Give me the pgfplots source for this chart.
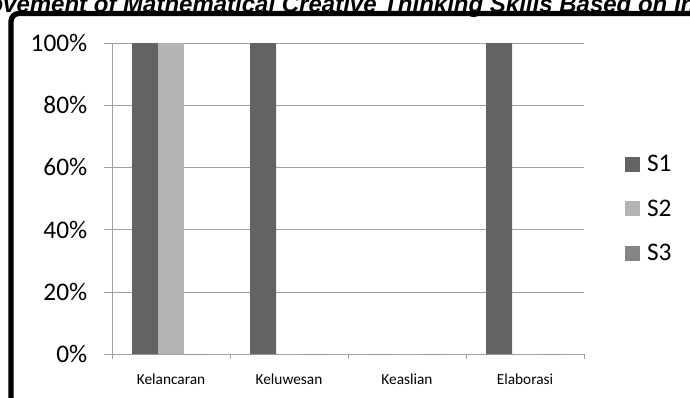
\documentclass[border=0pt]{standalone}
\usepackage{pgfplots}
\pgfplotsset{compat=1.18}
\usepackage{fontspec}
\setmainfont{Carlito}
\newfontfamily\titlefont{Liberation Sans}
\definecolor{cS1}{HTML}{636363}
\definecolor{cS2}{HTML}{B3B3B3}
\definecolor{cS3}{HTML}{858585}
\definecolor{gridc}{HTML}{A0A0A0}
\begin{document}
\begin{tikzpicture}
\useasboundingbox (0pt,0pt) rectangle (517.5pt,-297.75pt);
\clip (0pt,0pt) rectangle (517.5pt,-297.75pt);
\fill[white] (0pt,0pt) rectangle (517.5pt,-297.75pt);
\node[anchor=base west, inner sep=0pt] at (-47.8pt,-9.5pt)
  {\titlefont\bfseries\itshape\fontsize{18}{20}\selectfont Improvement of Mathematical Creative Thinking Skills Based on Indicators};
\draw[line width=4pt, rounded corners=6pt] (8.25pt,-10.1pt) rectangle (560pt,-330pt);
\begin{axis}[
  at={(84pt,-265.5pt)}, anchor=south west,
  scale only axis, width=354pt, height=233.25pt,
  xmin=-0.5, xmax=3.5, ymin=0, ymax=100,
  enlarge x limits=false, enlarge y limits=false,
  ybar, bar width=0.2203,
  axis x line*=bottom, axis y line*=left,
  axis line style={gridc, -},
  xtick={0,1,2,3},
  xticklabels={Kelancaran,Keluwesan,Keaslian,Elaborasi},
  minor xtick={-0.5,0.5,1.5,2.5,3.5},
  x tick style={draw=none},
  minor x tick style={draw=gridc, thin},
  minor tick length=4pt,
  ytick={0,20,40,60,80,100},
  yticklabels={0\%,20\%,40\%,60\%,80\%,100\%},
  y tick style={gridc, thin},
  major tick length=6pt,
  tick align=outside,
  ymajorgrids, major grid style={gridc, thin},
  xticklabel style={font=\fontsize{11.5}{13}\selectfont, yshift=-5pt},
  yticklabel style={font=\fontsize{19}{22}\selectfont, xshift=-9pt},
  legend style={at={(1.0869,0.471)}, anchor=west, draw=none, fill=none,
    inner sep=0pt, outer sep=0pt, row sep=20.15pt, column sep=5.25pt,
    font=\fontsize{19}{22}\selectfont,
    nodes={inner sep=0pt, text height=13pt, text depth=0pt}},
  legend cell align=left,
  legend image code/.code={\fill[#1] (0pt,-6.75pt) rectangle (11.25pt,4.5pt);},
]
\addplot[fill=cS1, draw=none, bar shift=-0.2203] coordinates {(0,100) (1,100) (2,0) (3,100)};
\addplot[fill=cS2, draw=none, bar shift=0] coordinates {(0,100) (1,0) (2,0) (3,0)};
\addplot[fill=cS3, draw=none, bar shift=0.2203] coordinates {(0,0) (1,0) (2,0) (3,0)};
\legend{S1,S2,S3}
\end{axis}
\end{tikzpicture}
\end{document}
